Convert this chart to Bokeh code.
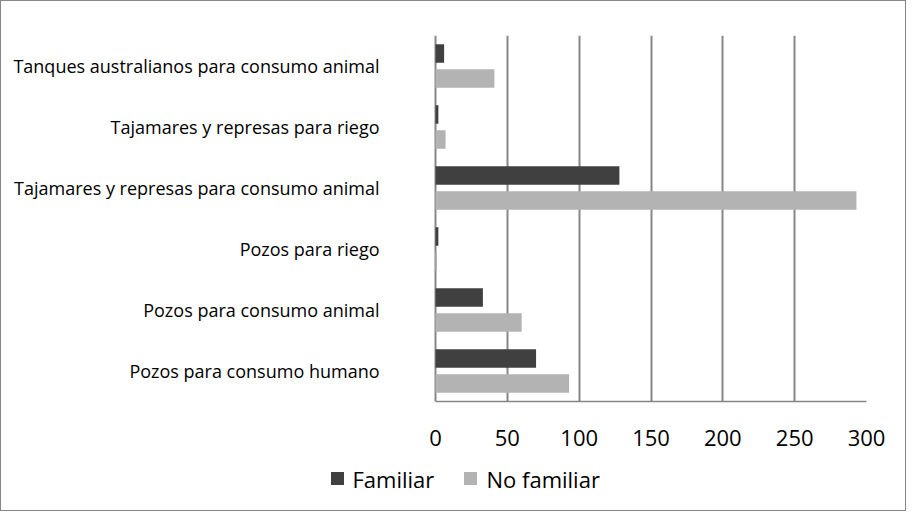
from bokeh.plotting import figure
from bokeh.layouts import column
from bokeh.models import FactorRange, ColumnDataSource, FixedTicker
from bokeh.core.properties import value
from bokeh.transform import dodge
from bokeh.embed import file_html
from bokeh.resources import INLINE

categories = [
    "Pozos para consumo humano",
    "Pozos para consumo animal",
    "Pozos para riego",
    "Tajamares y represas para consumo animal",
    "Tajamares y represas para riego",
    "Tanques australianos para consumo animal",
]
familiar = [70, 33, 2, 128, 2, 6]
no_familiar = [93, 60, 1, 293, 7, 41]
x_ticks = [0, 50, 100, 150, 200, 250, 300]
series_names = ["Familiar", "No familiar"]
series_colors = ["#404040", "#b3b3b3"]

FONT = "Open Sans"
GRAY = "#868686"

# layout constants (pixels)
W, H_MAIN, H_LEG = 906, 460, 51
AXIS_PX = 434      # pixel where value 0 sits
RIGHT_PX = 865     # pixel where value 300 sits
x_max = x_ticks[-1]
x_min = -AXIS_PX * x_max / (RIGHT_PX - AXIS_PX)

src = ColumnDataSource(dict(cat=categories, fam=familiar, nofam=no_familiar))

p = figure(
    width=W, height=H_MAIN,
    y_range=FactorRange(factors=categories, range_padding=0),
    x_range=(x_min, x_max),
    output_backend="svg", toolbar_location=None,
    min_border_left=0, min_border_right=W - RIGHT_PX, min_border_top=34, min_border_bottom=60,
)
p.y_range.factor_padding = 0

p.hbar(y=dodge("cat", 0.205, range=p.y_range), right="fam", left=0, height=0.30,
       source=src, fill_color=series_colors[0], line_color=None)
p.hbar(y=dodge("cat", -0.205, range=p.y_range), right="nofam", left=0, height=0.30,
       source=src, fill_color=series_colors[1], line_color=None)

# category labels, right-aligned left of the value axis
p.text(x=0, y="cat", text="cat", source=src, x_offset=-56,
       text_align="right", text_baseline="middle",
       text_font=value(FONT), text_font_size="18px", text_color="#000000")

p.outline_line_color = None
p.yaxis.visible = False
p.ygrid.grid_line_color = None
p.xgrid.grid_line_color = GRAY
p.xgrid.grid_line_width = 2
p.xgrid.ticker = FixedTicker(ticks=x_ticks)

p.xaxis.ticker = FixedTicker(ticks=x_ticks)
p.xaxis.bounds = (0, x_max)
p.xaxis.axis_line_color = GRAY
p.xaxis.axis_line_width = 1.5
p.xaxis.major_tick_line_color = None
p.xaxis.minor_tick_line_color = None
p.xaxis.major_label_standoff = 22
p.xaxis.major_label_text_font = FONT
p.xaxis.major_label_text_font_size = "22px"
p.xaxis.major_label_text_color = "#000000"

# legend strip below the chart (pixel-unit ranges: layout positions only)
pl = figure(width=W, height=H_LEG, x_range=(0, RIGHT_PX), y_range=(0, H_LEG),
            output_backend="svg", toolbar_location=None,
            min_border_left=0, min_border_right=W - RIGHT_PX,
            min_border_top=0, min_border_bottom=0)
pl.xaxis.visible = False
pl.yaxis.visible = False
pl.grid.visible = False
pl.outline_line_color = None

swatch_x = [336, 469]
label_x = [351, 485]
leg_y = 33
leg_src = ColumnDataSource(dict(sx=swatch_x, lx=label_x, y=[leg_y, leg_y],
                                name=series_names, color=series_colors))
pl.rect(x="sx", y="y", width=13, height=13, source=leg_src,
        fill_color="color", line_color=None)
pl.text(x="lx", y="y", text="name", source=leg_src, text_baseline="middle",
        text_font=value(FONT), text_font_size="22px", text_color="#000000")

p.styles = {"border-top": f"1px solid {GRAY}", "border-left": f"1px solid {GRAY}",
            "border-right": f"1px solid {GRAY}", "box-sizing": "border-box"}
pl.styles = {"border-bottom": f"1px solid {GRAY}", "border-left": f"1px solid {GRAY}",
             "border-right": f"1px solid {GRAY}", "box-sizing": "border-box"}

layout = column(p, pl, spacing=0)
open("out.html", "w").write(file_html(layout, INLINE))
